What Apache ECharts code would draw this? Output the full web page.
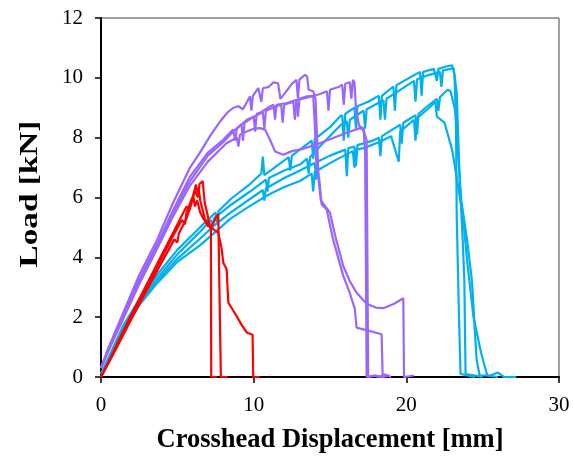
<!DOCTYPE html>
<html>
<head>
<meta charset="utf-8">
<script src="https://cdn.jsdelivr.net/npm/echarts@6/dist/echarts.min.js"></script>
<style>html,body{margin:0;padding:0;background:#fff;}#c{width:573px;height:459px;}</style>
</head>
<body>
<div id="c"></div>
<script>
const xTicks = [0, 10, 20, 30];
const yTicks = [0, 2, 4, 6, 8, 10, 12];
const xTitle = 'Crosshead Displacement [mm]';
const yTitle = 'Load [kN]';

const red1 = [[0,0],[0.5,0.5],[1,1.05],[2,2.1],[3,3.1],[4,4.1],[4.6,4.7],[5.2,5.3],[5.6,5.7],[5.8,5.6],[5.9,5.9],[6.2,6.2],[6.35,6.0],[6.45,6.45],[6.66,6.55],[6.75,6.5],[6.8,5.8],[6.95,5.5],[7.1,5.1],[7.2,4.95],[7.22,0],[7.6,0]];
const red2 = [[0,0],[1,1.0],[2,2.0],[3,3.0],[4,4.0],[4.7,4.7],[5.3,5.25],[5.5,5.1],[5.6,5.5],[6.0,6.0],[6.22,6.43],[6.3,6.2],[6.4,6.3],[6.5,5.9],[6.81,5.27],[7.2,5.0],[7.68,4.82],[7.9,4.3],[8.01,3.82],[8.23,3.6],[8.34,2.49],[8.88,2.04],[9.2,1.75],[9.54,1.49],[9.93,1.41],[9.97,0],[10.4,0]];
const red3 = [[0,0],[1,0.95],[2,1.95],[3,2.9],[4,3.85],[4.8,4.6],[5.0,4.5],[5.1,4.8],[5.6,5.3],[5.9,5.75],[6.05,6.04],[6.15,5.7],[6.3,5.9],[6.5,5.5],[6.7,5.3],[7.0,5.05],[7.2,5.0],[7.5,5.3],[7.68,5.45],[7.8,5.4],[7.85,0],[8.3,0]];

const purple1 = [[0,0.3],[0.5,1.0],[1.46,2.15],[2.5,3.4],[3.64,4.55],[4.7,5.8],[5.83,7.0],[6.48,7.5],[7.2,8.1],[7.8,8.54],[8.3,8.85],[8.67,9.0],[9.0,9.05],[9.3,8.95],[9.76,9.38],[9.85,8.9],[9.95,9.4],[10.3,9.66],[10.5,9.2],[10.6,9.65],[11.0,9.7],[11.3,9.85],[11.6,9.82],[11.75,9.3],[12.05,9.49],[12.5,9.8],[12.8,9.93],[12.9,9.3],[13.0,9.95],[13.36,10.1],[13.5,10.05],[13.6,9.6],[13.9,9.55],[14.05,9.3],[14.15,8.0],[14.25,6.6],[14.4,5.9],[15.0,5.49],[15.4,4.6],[15.87,3.71],[16.3,3.2],[16.74,2.82],[17.4,2.45],[18.0,2.32],[18.49,2.3],[19.2,2.45],[19.8,2.63],[19.85,0],[20.5,0.05]];
const purple2 = [[0,0.3],[0.5,0.9],[1.46,2.0],[2.5,3.2],[3.64,4.3],[4.7,5.45],[5.83,6.55],[7.0,7.4],[8.0,7.85],[8.65,8.2],[9.2,8.45],[9.3,7.9],[9.4,8.5],[10.0,8.7],[10.6,8.85],[10.7,8.3],[10.8,8.9],[11.5,9.05],[11.8,9.1],[11.9,8.5],[12.0,9.1],[12.6,9.2],[12.7,8.6],[12.8,9.25],[13.6,9.35],[14.3,9.45],[14.8,9.55],[14.9,8.9],[15.0,9.6],[15.6,9.7],[15.8,9.77],[15.9,9.1],[16.0,9.8],[16.3,9.85],[16.4,9.3],[16.5,9.93],[16.6,9.85],[16.7,9.0],[16.9,8.4],[17.2,8.3],[17.3,7.5],[17.35,4.0],[17.4,0],[17.9,0.05],[18.2,0],[18.6,0.08],[19.0,0]];
const purple3 = [[0,0.3],[0.5,0.9],[1.46,1.95],[2.5,3.1],[3.64,4.25],[4.7,5.35],[5.83,6.4],[7.0,7.2],[8.23,7.82],[8.9,8.0],[9.0,7.7],[9.1,8.1],[9.5,8.2],[10.0,8.3],[10.41,8.32],[10.74,8.27],[11.07,7.93],[11.4,7.54],[11.94,7.43],[12.5,7.55],[13.03,7.6],[14,7.75],[15,7.95],[16,8.15],[16.96,8.32],[17.2,8.25],[17.4,7.9],[17.45,4.0],[17.5,0],[18,0.05],[18.5,0]];
const purple4 = [[0,0.3],[0.5,0.95],[1.46,2.05],[2.5,3.25],[3.64,4.4],[4.7,5.55],[5.83,6.7],[7.0,7.5],[8.0,7.93],[8.65,8.27],[8.8,7.9],[8.9,8.3],[9.55,8.6],[10.0,8.7],[10.1,8.2],[10.2,8.8],[10.4,8.83],[11.07,9.04],[11.3,9.1],[11.4,8.6],[11.5,9.1],[12.2,9.16],[12.8,9.27],[12.9,8.7],[13.0,9.3],[13.5,9.38],[13.9,9.4],[14.0,8.5],[14.1,7.2],[14.3,6.6],[14.45,5.77],[14.78,5.6],[15.2,4.6],[15.87,3.38],[16.3,2.8],[16.63,2.27],[16.74,1.65],[17.5,1.55],[18.38,1.43],[18.45,0],[18.9,0.05]];

const blue1 = [[0,0.1],[0.5,0.65],[1.46,1.72],[2.5,2.6],[3.65,3.4],[5.0,4.25],[6.48,5.0],[7.5,5.5],[7.6,5.1],[7.7,5.55],[8.5,5.95],[9.76,6.45],[10.5,6.8],[10.6,7.37],[10.7,6.75],[11.5,7.05],[12.3,7.35],[12.4,6.9],[12.5,7.4],[13.03,7.6],[13.8,7.9],[13.9,7.3],[14.0,7.95],[15.0,8.35],[15.65,8.71],[15.8,8.75],[15.9,7.9],[16.0,8.8],[16.6,9.0],[16.7,8.3],[16.8,9.05],[17.5,9.2],[18.2,9.4],[18.3,8.6],[18.4,9.4],[19.15,9.71],[19.25,8.9],[19.35,9.75],[20.2,10.0],[20.9,10.2],[21.0,9.4],[21.1,10.2],[21.8,10.3],[22.0,9.9],[22.1,10.3],[22.6,10.38],[23.0,10.42],[23.15,10.1],[23.25,8.7],[23.3,5.4],[23.45,2.0],[23.55,0.1],[24.0,0.05],[24.5,0]];
const blue2 = [[0,0.1],[0.5,0.6],[1.46,1.65],[2.5,2.5],[3.65,3.28],[5.0,4.1],[6.48,4.85],[7.2,5.25],[7.3,4.95],[7.4,5.3],[8.5,5.75],[9.76,6.2],[10.8,6.6],[10.9,6.2],[11.0,6.65],[12.0,6.9],[13.03,7.1],[13.5,7.3],[13.6,6.8],[13.7,7.35],[14.5,7.8],[15.65,8.4],[16.1,8.55],[16.2,8.0],[16.3,8.6],[17.2,8.9],[17.3,8.3],[17.4,8.95],[18.5,9.25],[18.6,8.6],[18.7,9.3],[19.6,9.6],[20.5,9.9],[20.6,9.2],[20.7,9.95],[21.5,10.1],[22.2,10.2],[22.3,9.7],[22.4,10.25],[22.9,10.3],[23.1,10.32],[23.3,9.5],[23.4,8.0],[23.5,6.5],[23.7,4.5],[23.8,3.2],[23.88,0.1],[24.5,0.05],[25,0]];
const blue3 = [[0,0.1],[0.5,0.55],[1.46,1.6],[2.5,2.45],[3.65,3.2],[5.0,3.95],[6.48,4.62],[7.5,5.1],[8.5,5.5],[9.76,5.95],[10.6,6.25],[10.7,5.9],[10.8,6.3],[12.0,6.65],[13.03,6.9],[14.0,7.15],[14.1,6.6],[14.2,7.2],[15.0,7.4],[16.0,7.6],[16.1,6.71],[16.2,7.65],[16.6,7.7],[16.7,7.05],[16.8,7.75],[17.8,7.9],[18.2,8.0],[18.3,7.38],[18.4,8.05],[19.6,8.43],[19.7,7.8],[19.8,8.5],[20.6,8.75],[20.7,8.1],[20.8,8.8],[21.5,9.1],[22.0,9.3],[22.1,8.9],[22.2,9.35],[22.7,9.6],[22.9,9.55],[23.2,8.9],[23.6,5.9],[24.0,4.5],[24.3,3.2],[24.6,0.6],[24.8,0.05],[25.5,0.05],[26,0.15],[26.4,0],[27.2,0]];
const blue4 = [[0,0.1],[0.5,0.5],[1.46,1.55],[2.5,2.4],[3.65,3.12],[5.0,3.85],[6.48,4.4],[7.5,4.85],[8.5,5.3],[9.76,5.72],[11.0,6.1],[12.0,6.35],[13.03,6.55],[13.8,6.8],[13.9,6.2],[14.0,6.85],[15.0,7.15],[16.1,7.45],[16.5,7.55],[16.6,7.0],[16.7,7.6],[17.2,7.65],[18.2,7.85],[19.0,8.05],[19.5,7.2],[19.6,8.2],[20.5,8.6],[20.6,7.9],[20.7,8.65],[21.5,9.0],[21.9,9.2],[22.0,8.7],[22.5,8.5],[23.0,7.6],[23.7,5.4],[24.0,3.8],[24.4,2.0],[24.9,0.8],[25.3,0.05],[26,0]];

const RED = '#FF0000', PURPLE = '#9966FF', BLUE = '#00B0F0';
const groups = [
  [blue1, BLUE], [blue2, BLUE], [blue3, BLUE], [blue4, BLUE],
  [purple1, PURPLE], [purple2, PURPLE], [purple3, PURPLE], [purple4, PURPLE],
  [red1, RED], [red2, RED], [red3, RED]
];

const FONT = 'Liberation Serif';
const chart = echarts.init(document.getElementById('c'), null, {renderer: 'canvas'});
chart.setOption({
  backgroundColor: '#fff',
  animation: false,
  grid: {left: 101, right: 14, top: 18, bottom: 81, show: true, borderColor: '#444', borderWidth: 1},
  graphic: [{
    type: 'text', x: 31, y: 194, rotation: Math.PI / 2, scaleX: 1.33,
    style: {text: yTitle, fontFamily: FONT, fontWeight: 'bold', fontSize: 25, fill: '#000', align: 'center', verticalAlign: 'middle'}
  }],
  xAxis: {
    type: 'value', min: xTicks[0], max: xTicks[xTicks.length-1], interval: 10,
    name: xTitle, nameLocation: 'middle', nameGap: 50,
    nameTextStyle: {fontFamily: FONT, fontWeight: 'bold', fontSize: 26.5, color: '#000'},
    axisLine: {show: true, lineStyle: {color: '#000', width: 2}},
    axisTick: {show: true, length: 6, lineStyle: {color: '#000', width: 1.5}},
    axisLabel: {fontFamily: FONT, fontSize: 21, color: '#000', margin: 18},
    splitLine: {show: false}
  },
  yAxis: {
    type: 'value', min: yTicks[0], max: yTicks[yTicks.length-1], interval: 2,
    axisLine: {show: true, lineStyle: {color: '#000', width: 2}},
    axisTick: {show: true, length: 6, lineStyle: {color: '#000', width: 1.5}},
    axisLabel: {fontFamily: FONT, fontSize: 21, color: '#000', margin: 18},
    splitLine: {show: false}
  },
  series: groups.map(([d, c]) => ({
    type: 'line', data: d, showSymbol: false, symbol: 'none',
    lineStyle: {color: c, width: 2.2}, itemStyle: {color: c},
    emphasis: {disabled: true}
  }))
});
</script>
</body>
</html>
